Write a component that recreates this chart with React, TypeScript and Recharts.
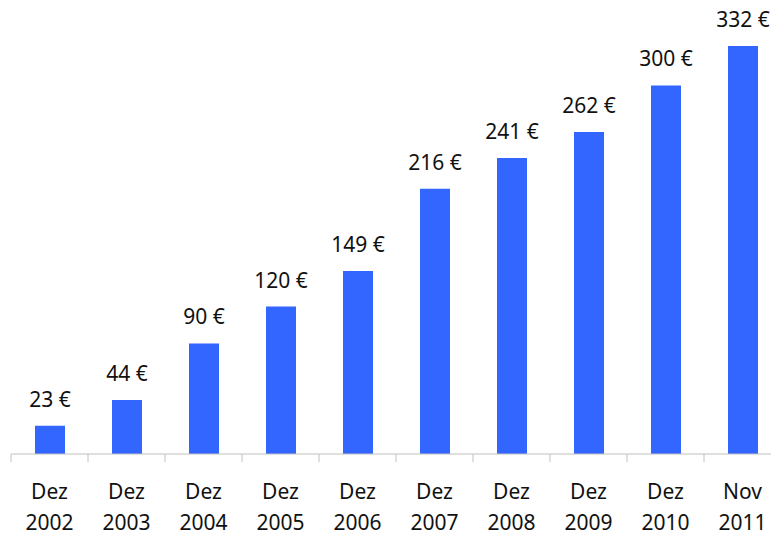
import { BarChart, Bar, XAxis, YAxis, LabelList } from 'recharts';

const MONTHS = ['Dez', 'Dez', 'Dez', 'Dez', 'Dez', 'Dez', 'Dez', 'Dez', 'Dez', 'Nov'];
const YEARS = ['2002', '2003', '2004', '2005', '2006', '2007', '2008', '2009', '2010', '2011'];
const VALUES = [23, 44, 90, 120, 149, 216, 241, 262, 300, 332];

const data = VALUES.map((value, i) => ({
  name: `${MONTHS[i]} ${YEARS[i]}`,
  month: MONTHS[i],
  year: YEARS[i],
  value,
}));

const FONT = '"Noto Sans", "Open Sans", sans-serif';
const FONT_SIZE = 21;
const BAR_COLOR = '#3366ff';
const AXIS_COLOR = '#c0c0c0';
const TICK_SIZE = 8;

// two-line label, plus the small tick marks that sit between categories
const XTick = (props: any) => {
  const { x, y, index, payload, visibleTicksCount } = props;
  const half = payload?.offset ?? 0;
  const top = y - TICK_SIZE;
  return (
    <g>
      <line x1={x - half} x2={x - half} y1={top} y2={y} stroke={AXIS_COLOR} />
      {index === visibleTicksCount - 1 && (
        <line x1={x + half} x2={x + half} y1={top} y2={y} stroke={AXIS_COLOR} />
      )}
      <text x={x} y={y + 37} textAnchor="middle" fill="#111" style={{ fontSize: FONT_SIZE, fontFamily: FONT }}>
        {MONTHS[index]}
      </text>
      <text x={x} y={y + 68} textAnchor="middle" fill="#111" style={{ fontSize: FONT_SIZE, fontFamily: FONT }}>
        {YEARS[index]}
      </text>
    </g>
  );
};

const ValueLabel = (props: any) => {
  const { x, y, width, value } = props;
  return (
    <text
      x={(x as number) + (width as number) / 2}
      y={(y as number) - 19}
      textAnchor="middle"
      fill="#111"
      style={{ fontSize: FONT_SIZE, fontFamily: FONT }}
    >
      {`${value} €`}
    </text>
  );
};

export default function App() {
  return (
    <div style={{ position: 'absolute', left: 0, top: 0, width: 771, height: 533, overflow: 'hidden', background: '#fff' }}>
      <BarChart width={790} height={533} data={data} margin={{ top: 24, right: 9, bottom: 0, left: 11 }}>
        <XAxis
          dataKey="name"
          height={79}
          interval={0}
          stroke={AXIS_COLOR}
          tickLine={false}
          tick={<XTick />}
          tickMargin={0}
          tickSize={TICK_SIZE}
        />
        <YAxis hide domain={[0, 350]} />
        <Bar dataKey="value" fill={BAR_COLOR} barSize={30} isAnimationActive={false}>
          <LabelList dataKey="value" content={<ValueLabel />} />
        </Bar>
      </BarChart>
    </div>
  );
}
